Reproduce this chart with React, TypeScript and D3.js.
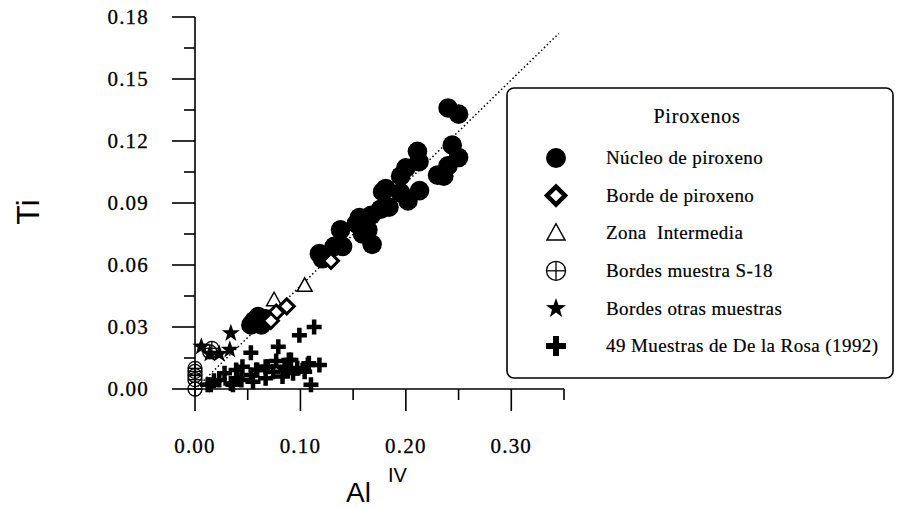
import React from 'react';
import * as d3 from 'd3';

const W = 899;
const H = 508;

// axis ticks
const yTickValues = [0, 0.03, 0.06, 0.09, 0.12, 0.15, 0.18];
const yTickLabels = ['0.00', '0.03', '0.06', '0.09', '0.12', '0.15', '0.18'];
const yMinorTicks = [0.015, 0.045, 0.075, 0.105, 0.135, 0.165];
const xTickValues = [0, 0.1, 0.2, 0.3];
const xTickLabels = ['0.00', '0.10', '0.20', '0.30'];
const xMinorTicks = [0.05, 0.15, 0.25, 0.35];

// series: [Al IV, Ti]
const nucleo: [number, number][] = [
  [0.240, 0.136], [0.250, 0.133], [0.244, 0.118], [0.250, 0.112], [0.240, 0.108],
  [0.236, 0.103], [0.230, 0.1035], [0.211, 0.115], [0.2125, 0.110], [0.200, 0.107],
  [0.195, 0.103], [0.213, 0.096], [0.202, 0.091], [0.195, 0.095], [0.181, 0.097],
  [0.178, 0.0955], [0.184, 0.088], [0.176, 0.087], [0.167, 0.084], [0.156, 0.083],
  [0.153, 0.080], [0.164, 0.077], [0.168, 0.070], [0.159, 0.075], [0.138, 0.077],
  [0.140, 0.069], [0.132, 0.069], [0.118, 0.0655], [0.121, 0.063],
  [0.056, 0.033], [0.067, 0.034], [0.053, 0.031], [0.063, 0.031], [0.060, 0.035],
];
const borde: [number, number][] = [
  [0.077, 0.037], [0.087, 0.040], [0.072, 0.033], [0.129, 0.062],
];
const zonaIntermedia: [number, number][] = [
  [0.104, 0.050], [0.075, 0.043],
];
const bordesS18: [number, number][] = [
  [0, 0.010], [0, 0.0085], [0, 0.0065], [0, 0.0045], [0, 0.0],
  [0.016, 0.0197], [0.014, 0.018],
];
const bordesOtras: [number, number][] = [
  [0.006, 0.0205], [0.034, 0.027], [0.033, 0.019], [0.023, 0.017], [0.014, 0.017],
];
const deLaRosa: [number, number][] = [
  [0.113, 0.030], [0.099, 0.026], [0.053, 0.0175], [0.079, 0.0205], [0.110, 0.002],
  [0.028, 0.0076], [0.039, 0.0092], [0.044, 0.0044], [0.053, 0.0068], [0.059, 0.0092],
  [0.069, 0.0108], [0.077, 0.0135], [0.085, 0.0108], [0.091, 0.014], [0.097, 0.010],
  [0.107, 0.0116], [0.118, 0.0116], [0.034, 0.0027], [0.015, 0.002], [0.045, 0.0108],
  [0.040, 0.0052], [0.058, 0.0092], [0.067, 0.0108], [0.074, 0.0084], [0.089, 0.014],
  [0.086, 0.0092], [0.108, 0.0124], [0.023, 0.0044], [0.036, 0.002], [0.055, 0.0035],
  [0.067, 0.0052], [0.093, 0.0076], [0.104, 0.0084], [0.083, 0.006], [0.012, 0.002],
  [0.018, 0.004],
];
const trendLine: [number, number][] = [[0, 0], [0.345, 0.172]];

const legendTitle = 'Piroxenos';
const legendLabels = [
  'Núcleo de piroxeno',
  'Borde de piroxeno',
  'Zona  Intermedia',
  'Bordes muestra S-18',
  'Bordes otras muestras',
  '49 Muestras de De la Rosa (1992)',
];

const serif = "'Liberation Serif', 'Times New Roman', serif";
const sans = "'Liberation Sans', Arial, sans-serif";

const starPath = (r: number) => {
  const pts: string[] = [];
  for (let i = 0; i < 10; i++) {
    const rr = i % 2 === 0 ? r : r * 0.4;
    const a = -Math.PI / 2 + (i * Math.PI) / 5;
    pts.push(`${(rr * Math.cos(a)).toFixed(2)},${(rr * Math.sin(a)).toFixed(2)}`);
  }
  return 'M' + pts.join('L') + 'Z';
};

const plusPath = (h: number, t: number) => {
  const s = t / 2;
  return `M${-s},${-h}H${s}V${-s}H${h}V${s}H${s}V${h}H${-s}V${s}H${-h}V${-s}H${-s}Z`;
};

const Marker = ({ kind, big = false }: { kind: number; big?: boolean }) => {
  const k = big ? 1.2 : 1;
  switch (kind) {
    case 0:
      return <circle r={big ? 10 : 9.8} fill="#000" />;
    case 1: {
      const r = 7.5 * k;
      return (
        <path d={`M0,${-r}L${r},0L0,${r}L${-r},0Z`} fill="#fff" stroke="#000"
          strokeWidth={big ? 4.5 : 3} strokeLinejoin="miter" />
      );
    }
    case 2: {
      const w = 7.5 * k;
      return (
        <path d={`M0,${-w * 1.05}L${w},${w * 0.75}L${-w},${w * 0.75}Z`} fill="#fff"
          stroke="#000" strokeWidth={1.5} />
      );
    }
    case 3: {
      const r = big ? 9.5 : 7;
      return (
        <g fill="none" stroke="#000" strokeWidth={1.3}>
          <circle r={r} />
          <line x1={-r} x2={r} y1={0} y2={0} />
          <line x1={0} x2={0} y1={-r} y2={r} />
        </g>
      );
    }
    case 4:
      return <path d={starPath(big ? 10.5 : 9.5)} fill="#000" />;
    default:
      return <path d={big ? plusPath(10, 6) : plusPath(7.5, 4.5)} fill="#000" />;
  }
};

export default function App() {
  const x = d3.scaleLinear().domain([0, 0.35]).range([195, 564]);
  const y = d3.scaleLinear().domain([0, 0.18]).range([389, 17]);
  const line = d3.line<[number, number]>().x(d => x(d[0])).y(d => y(d[1]));

  const series: { kind: number; data: [number, number][] }[] = [
    { kind: 5, data: deLaRosa },
    { kind: 4, data: bordesOtras },
    { kind: 3, data: bordesS18 },
    { kind: 0, data: nucleo },
    { kind: 2, data: zonaIntermedia },
    { kind: 1, data: borde },
  ];

  const legX = 507, legY = 88, legW = 386, legH = 290;
  const rowY = (i: number) => 158 + i * 37.6;

  return (
    <div style={{ position: 'absolute', left: 0, top: 0 }}>
      <svg width={W} height={H} style={{ display: 'block', background: '#fff' }}>
        {/* trend line */}
        <path d={line(trendLine) || ''} fill="none" stroke="#000" strokeWidth={1.5}
          strokeDasharray="1.5,2.5" />

        {/* axes */}
        <g stroke="#000" strokeWidth={1.6}>
          <line x1={x(0)} x2={x(0)} y1={y(0.18)} y2={y(0)} />
          <line x1={x(0)} x2={x(0.35)} y1={y(0)} y2={y(0)} />
          {yTickValues.map(v => (
            <line key={'ym' + v} x1={x(0) - 23} x2={x(0)} y1={y(v)} y2={y(v)} />
          ))}
          {yMinorTicks.map(v => (
            <line key={'yn' + v} x1={x(0) - 11} x2={x(0)} y1={y(v)} y2={y(v)} />
          ))}
          {xTickValues.map(v => (
            <line key={'xm' + v} x1={x(v)} x2={x(v)} y1={y(0)} y2={y(0) + 22} />
          ))}
          {xMinorTicks.map(v => (
            <line key={'xn' + v} x1={x(v)} x2={x(v)} y1={y(0)} y2={y(0) + 11} />
          ))}
        </g>
        <g fontFamily={serif} fontSize={21} letterSpacing={1.2} fill="#000"
          stroke="#000" strokeWidth={0.3}>
          {yTickValues.map((v, i) => (
            <text key={'yl' + v} x={149} y={y(v)} dy="0.35em" textAnchor="end">{yTickLabels[i]}</text>
          ))}
          {xTickValues.map((v, i) => (
            <text key={'xl' + v} x={x(v)} y={453} textAnchor="middle">{xTickLabels[i]}</text>
          ))}
        </g>

        {/* axis titles */}
        <text transform="translate(39,212) rotate(-90)" textAnchor="middle"
          fontFamily={sans} fontSize={32} fill="#000">Ti</text>
        <text x={346} y={502} fontFamily={sans} fontSize={28} fill="#000">Al</text>
        <text x={388} y={482} fontFamily={sans} fontSize={20} fill="#000">IV</text>

        {/* points */}
        {series.map(s => (
          <g key={'s' + s.kind}>
            {s.data.map((d, i) => (
              <g key={i} transform={`translate(${x(d[0])},${y(d[1])})`}>
                <Marker kind={s.kind} />
              </g>
            ))}
          </g>
        ))}

        {/* legend */}
        <rect x={legX} y={legY} width={legW} height={legH} rx={7} fill="#fff"
          stroke="#000" strokeWidth={1.6} />
        <text x={697} y={123} textAnchor="middle" fontFamily={serif} fontSize={20}
          letterSpacing={0.8} fill="#000" stroke="#000" strokeWidth={0.2}>{legendTitle}</text>
        {legendLabels.map((lab, i) => (
          <g key={lab}>
            <g transform={`translate(556,${rowY(i)})`}>
              <Marker kind={i} big />
            </g>
            <text x={606} y={rowY(i)} dy="0.33em" fontFamily={serif} fontSize={19}
              letterSpacing={0.4} fill="#000" stroke="#000" strokeWidth={0.2}
              style={{ whiteSpace: 'pre' }}>{lab}</text>
          </g>
        ))}
      </svg>
    </div>
  );
}
